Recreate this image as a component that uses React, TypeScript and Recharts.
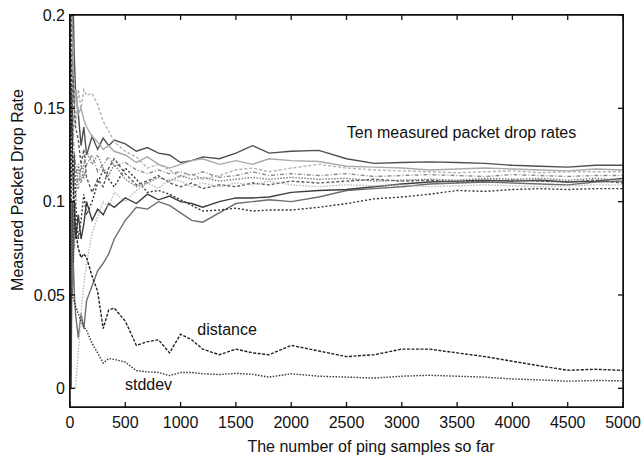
import { LineChart, Line, XAxis, YAxis, ReferenceDot, ReferenceLine } from "recharts";

const FONT = "'Liberation Sans', Arial, sans-serif";

const samples = [
  0, 10, 20, 30, 40, 50, 75, 100, 125, 150, 200, 250, 300, 350, 400, 500, 600, 700, 800, 900,
  1000, 1100, 1200, 1350, 1500, 1650, 1800, 2000, 2250, 2500, 2750, 3000, 3250, 3500, 3750, 4000,
  4250, 4500, 4750, 5000,
];

// ten measured packet drop rates
const rate1 = [
  0.3, 0.2, 0.25, 0.2, 0.175, 0.16, 0.147, 0.13, 0.14, 0.125, 0.135, 0.128, 0.134, 0.13, 0.133, 0.131,
  0.127, 0.129, 0.126, 0.125, 0.121, 0.122, 0.124, 0.123, 0.126, 0.13, 0.126, 0.127, 0.1275, 0.123,
  0.1205, 0.121, 0.1213, 0.121, 0.1205, 0.1195, 0.119, 0.1185, 0.1195, 0.1195,
];
const rate2 = [
  0.2, 0.3, 0.2, 0.167, 0.15, 0.16, 0.147, 0.15, 0.144, 0.14, 0.135, 0.132, 0.128, 0.13, 0.127, 0.125,
  0.121, 0.124, 0.12, 0.118, 0.12, 0.122, 0.123, 0.12, 0.122, 0.12, 0.123, 0.122, 0.1215, 0.119,
  0.1185, 0.118, 0.117, 0.1175, 0.118, 0.1175, 0.117, 0.1165, 0.1175, 0.117,
];
const rate3 = [
  0.1, 0.2, 0.15, 0.133, 0.15, 0.14, 0.16, 0.15, 0.16, 0.157, 0.158, 0.152, 0.143, 0.138, 0.132, 0.127,
  0.124, 0.118, 0.12, 0.117, 0.113, 0.115, 0.112, 0.114, 0.117, 0.118, 0.116, 0.118, 0.12, 0.118,
  0.117, 0.1165, 0.116, 0.1155, 0.116, 0.1165, 0.1155, 0.116, 0.116, 0.116,
];
const rate4 = [
  0, 0.1, 0.05, 0.067, 0.05, 0.04, 0.027, 0.04, 0.032, 0.047, 0.055, 0.063, 0.067, 0.072, 0.08, 0.09,
  0.097, 0.096, 0.1, 0.098, 0.094, 0.09, 0.089, 0.094, 0.099, 0.1, 0.101, 0.1, 0.1025, 0.106, 0.107,
  0.108, 0.1095, 0.11, 0.1105, 0.11, 0.1095, 0.109, 0.1105, 0.111,
];
const rate5 = [
  0.2, 0.1, 0.15, 0.1, 0.125, 0.1, 0.08, 0.09, 0.104, 0.093, 0.1, 0.11, 0.117, 0.112, 0.108, 0.118,
  0.112, 0.105, 0.106, 0.104, 0.101, 0.098, 0.095, 0.0955, 0.0965, 0.095, 0.0955, 0.0955, 0.097, 0.099,
  0.1015, 0.1025, 0.104, 0.106, 0.1055, 0.1065, 0.107, 0.1065, 0.107, 0.107,
];
const rate6 = [
  0.1, 0, 0.1, 0.067, 0.1, 0.08, 0.093, 0.08, 0.088, 0.1, 0.09, 0.096, 0.093, 0.099, 0.097, 0.102,
  0.099, 0.104, 0.101, 0.103, 0.1, 0.099, 0.097, 0.1, 0.102, 0.102, 0.1025, 0.105, 0.106, 0.1065, 0.108,
  0.1095, 0.1105, 0.111, 0.1115, 0.111, 0.1115, 0.1105, 0.111, 0.1125,
];
const rate7 = [
  0.3, 0.2, 0.2, 0.133, 0.125, 0.12, 0.107, 0.12, 0.112, 0.12, 0.125, 0.116, 0.12, 0.124, 0.119, 0.121,
  0.117, 0.115, 0.117, 0.115, 0.116, 0.114, 0.116, 0.113, 0.114, 0.116, 0.114, 0.115, 0.114, 0.115,
  0.1135, 0.114, 0.1145, 0.114, 0.1135, 0.1145, 0.114, 0.1135, 0.114, 0.114,
];
const rate8 = [
  0.2, 0.2, 0.15, 0.167, 0.15, 0.14, 0.133, 0.12, 0.128, 0.113, 0.105, 0.112, 0.108, 0.118, 0.123, 0.115,
  0.109, 0.111, 0.114, 0.11, 0.108, 0.11, 0.107, 0.109, 0.108, 0.11, 0.109, 0.111, 0.11, 0.111, 0.112,
  0.111, 0.1115, 0.1105, 0.111, 0.1115, 0.111, 0.1105, 0.1115, 0.11,
];
const rate9 = [
  0, 0, 0, 0, 0, 0, 0.02, 0.04, 0.056, 0.067, 0.083, 0.092, 0.1, 0.097, 0.105, 0.1, 0.106, 0.11, 0.107,
  0.112, 0.111, 0.108, 0.11, 0.108, 0.11, 0.109, 0.111, 0.109, 0.108, 0.109, 0.1085, 0.109, 0.108,
  0.1085, 0.109, 0.1085, 0.108, 0.1085, 0.109, 0.109,
];
const rate10 = [
  0.1, 0.1, 0.05, 0.1, 0.075, 0.1, 0.12, 0.11, 0.12, 0.127, 0.12, 0.125, 0.118, 0.114, 0.12, 0.112,
  0.108, 0.11, 0.113, 0.111, 0.114, 0.112, 0.113, 0.111, 0.112, 0.113, 0.112, 0.113, 0.112, 0.1125,
  0.111, 0.1115, 0.112, 0.1115, 0.1125, 0.112, 0.1125, 0.1115, 0.1125, 0.1115,
];

const distance = [
  0.19, 0.16, 0.13, 0.11, 0.095, 0.085, 0.075, 0.07, 0.072, 0.07, 0.06, 0.052, 0.032, 0.042, 0.043,
  0.036, 0.023, 0.025, 0.026, 0.019, 0.029, 0.026, 0.021, 0.018, 0.021, 0.019, 0.018, 0.023, 0.02,
  0.017, 0.018, 0.021, 0.021, 0.019, 0.017, 0.0145, 0.012, 0.0097, 0.0102, 0.0096,
];
const stddev = [
  0.06, 0.055, 0.05, 0.048, 0.046, 0.044, 0.04, 0.036, 0.033, 0.031, 0.024, 0.019, 0.0135, 0.016,
  0.0155, 0.014, 0.0095, 0.0088, 0.0085, 0.0068, 0.0085, 0.0085, 0.0078, 0.0074, 0.008, 0.0075, 0.006,
  0.0078, 0.0065, 0.006, 0.0055, 0.0065, 0.007, 0.0065, 0.006, 0.005, 0.0045, 0.0038, 0.0042, 0.004,
];

const xTicks = [0, 500, 1000, 1500, 2000, 2500, 3000, 3500, 4000, 4500, 5000];
const yTicks = [0, 0.05, 0.1, 0.15, 0.2];
const X_DOMAIN = [0, 5000];
const Y_DOMAIN = [-0.01, 0.2];

const SERIES = [
  { key: "r1", values: rate1, color: "#4f4f4f", dash: undefined },
  { key: "r2", values: rate2, color: "#a9a9a9", dash: undefined },
  { key: "r3", values: rate3, color: "#b3b3b3", dash: "3 2" },
  { key: "r4", values: rate4, color: "#6e6e6e", dash: undefined },
  { key: "r5", values: rate5, color: "#333333", dash: "2 2" },
  { key: "r6", values: rate6, color: "#3c3c3c", dash: undefined },
  { key: "r7", values: rate7, color: "#8c8c8c", dash: "4 2 1 2" },
  { key: "r8", values: rate8, color: "#5a5a5a", dash: "3 2" },
  { key: "r9", values: rate9, color: "#b8b8b8", dash: "1.5 1.5" },
  { key: "r10", values: rate10, color: "#7c7c7c", dash: "1.5 1.5" },
  { key: "distance", values: distance, color: "#222222", dash: "3 1.5" },
  { key: "stddev", values: stddev, color: "#333333", dash: "1.5 1.5" },
];

const rows = samples.map((n, i) => {
  const row: Record<string, number> = { n };
  for (const s of SERIES) row[s.key] = s.values[i];
  return row;
});

// plot box size in px (chart 641x457 minus margins and axis sizes)
const PLOT_W = 553;
const PLOT_H = 392;
const TICK = 5;
const X_MARGIN = 15;
const Y_MARGIN = 5;

const textStyle = { fill: "#111", fontSize: 16, fontFamily: FONT };

// matlab-style ticks: pointing inward, repeated on the opposite side of the box
function BottomTick({ x, y, payload }: any) {
  const axisY = y - X_MARGIN;
  return (
    <g>
      <line x1={x} x2={x} y1={axisY} y2={axisY - TICK} stroke="#111" strokeWidth={1.3} />
      <line x1={x} x2={x} y1={axisY - PLOT_H} y2={axisY - PLOT_H + TICK} stroke="#111" strokeWidth={1.3} />
      <text x={x} y={y} textAnchor="middle" dominantBaseline="central" style={textStyle}>
        {String(payload.value)}
      </text>
    </g>
  );
}

function LeftTick({ x, y, payload }: any) {
  const axisX = x + Y_MARGIN;
  return (
    <g>
      <line x1={axisX} x2={axisX + TICK} y1={y} y2={y} stroke="#111" strokeWidth={1.3} />
      <line x1={axisX + PLOT_W} x2={axisX + PLOT_W - TICK} y1={y} y2={y} stroke="#111" strokeWidth={1.3} />
      <text x={x} y={y} textAnchor="end" dominantBaseline="central" style={textStyle}>
        {String(payload.value)}
      </text>
    </g>
  );
}

export default function App() {
  return (
    <div style={{ position: "absolute", left: 0, top: 0, width: 641, height: 457, background: "#fff" }}>
      <LineChart width={641} height={457} data={rows} margin={{ top: 15, right: 18, bottom: 0, left: 0 }}>
        <XAxis
          dataKey="n"
          type="number"
          domain={X_DOMAIN}
          ticks={xTicks}
          allowDataOverflow
          height={50}
          tickSize={0}
          tickMargin={X_MARGIN}
          tickLine={false}
          stroke="#111"
          strokeWidth={1.5}
          tick={<BottomTick />}
          label={{
            content: () => (
              <text x={371} y={446} textAnchor="middle" dominantBaseline="central" style={textStyle}>
                The number of ping samples so far
              </text>
            ),
          }}
        />
        <YAxis
          type="number"
          domain={Y_DOMAIN}
          ticks={yTicks}
          allowDataOverflow
          width={70}
          tickSize={0}
          tickMargin={Y_MARGIN}
          tickLine={false}
          stroke="#111"
          strokeWidth={1.5}
          tick={<LeftTick />}
          label={{
            content: () => (
              <text
                x={17}
                y={190}
                transform="rotate(-90 17 190)"
                textAnchor="middle"
                dominantBaseline="central"
                style={textStyle}
              >
                Measured Packet Drop Rate
              </text>
            ),
          }}
        />
        {SERIES.map((s) => (
          <Line
            key={s.key}
            dataKey={s.key}
            type="linear"
            stroke={s.color}
            strokeWidth={1.4}
            strokeDasharray={s.dash}
            dot={false}
            activeDot={false}
            isAnimationActive={false}
          />
        ))}
        {/* closing the box: top and right edges */}
        <ReferenceLine y={Y_DOMAIN[1]} stroke="#111" strokeWidth={1.5} ifOverflow="visible" />
        <ReferenceLine x={X_DOMAIN[1]} stroke="#111" strokeWidth={1.5} ifOverflow="visible" />
        <ReferenceDot
          x={3540}
          y={0.1372}
          r={0}
          stroke="none"
          label={{ value: "Ten measured packet drop rates", position: "center", style: textStyle }}
        />
        <ReferenceDot
          x={1420}
          y={0.0316}
          r={0}
          stroke="none"
          label={{ value: "distance", position: "center", style: textStyle }}
        />
        <ReferenceDot
          x={710}
          y={0.0021}
          r={0}
          stroke="none"
          label={{ value: "stddev", position: "center", style: textStyle }}
        />
      </LineChart>
      <div
        style={{
          position: "absolute",
          boxSizing: "border-box",
          left: 69.25,
          top: 14.25,
          width: PLOT_W + 1.5,
          height: PLOT_H + 1.5,
          border: "1.5px solid #111",
          pointerEvents: "none",
        }}
      />
    </div>
  );
}
